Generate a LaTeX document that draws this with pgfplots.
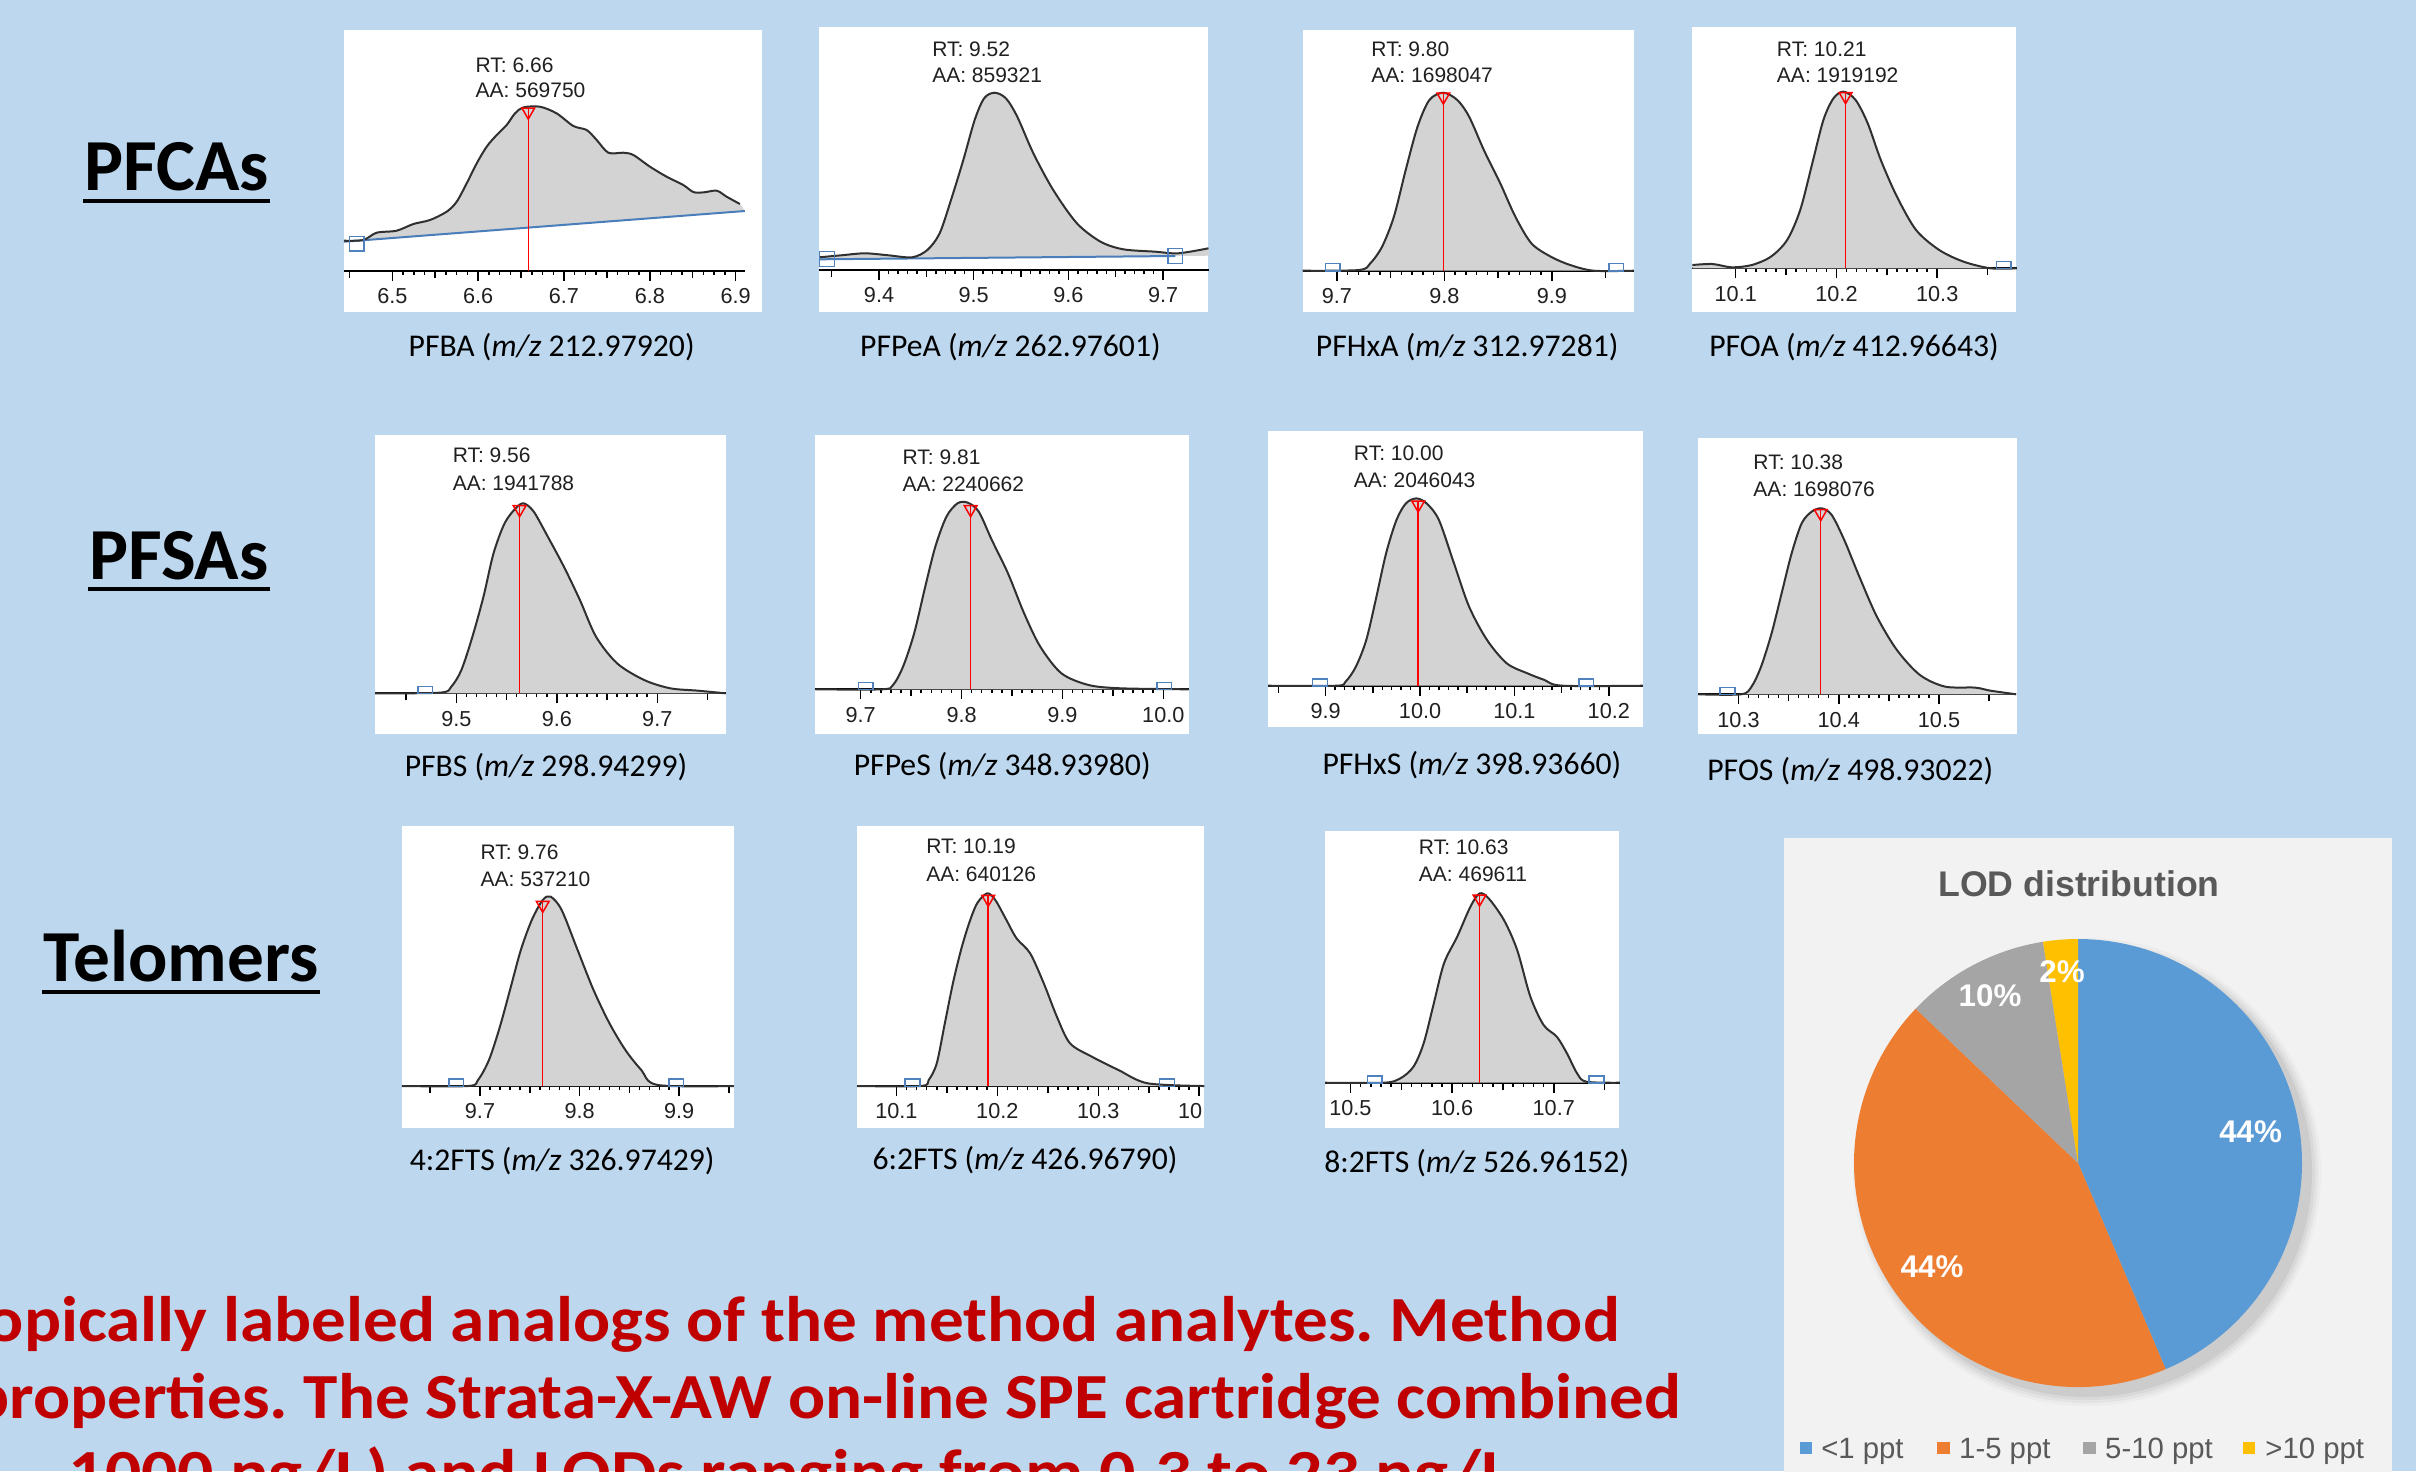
\documentclass[border=0pt]{standalone}
\usepackage{fontspec}
\setmainfont{Liberation Sans}
\newfontfamily\calibri{Carlito}
\newfontfamily\redfont[FakeStretch=1.075]{Carlito}
\newfontfamily\redfontb[FakeStretch=1.115]{Carlito}
\usepackage{pgfplots}
\pgfplotsset{compat=1.18}
\usepackage{pgfplotstable}
\frenchspacing

\definecolor{bg}{HTML}{BDD7EE}
\definecolor{pkfill}{HTML}{D3D3D3}
\definecolor{pkline}{HTML}{303030}
\definecolor{boxblue}{HTML}{4F81BD}
\definecolor{basel}{HTML}{4A7EBB}
\definecolor{redtxt}{HTML}{C00000}
\definecolor{pieblue}{HTML}{5B9BD5}
\definecolor{pieorange}{HTML}{ED7D31}
\definecolor{piegray}{HTML}{A5A5A5}
\definecolor{pieyellow}{HTML}{FFC000}
\definecolor{txtgray}{HTML}{595959}
\definecolor{piebg}{HTML}{F2F2F2}
\definecolor{lblc}{HTML}{202020}

\newcommand\tickfont{\fontsize{6.5}{7}\selectfont}
\newcommand\lblfont{\fontsize{6.3}{7}\selectfont}
\newcommand\capfont{\calibri\fontsize{9.5}{11}\selectfont}

\pgfplotsset{
  chrom/.style={
    axis x line*=bottom, axis y line=none,
    ymin=0, ymax=200, y=0.3pt,
    anchor=south west, clip=false,
    xtick align=outside,
    major tick length=3pt, minor tick length=1.2pt,
    tick style={black, line width=0.45pt},
    axis line style={black, line width=0.6pt},
    scaled x ticks=false,
    minor x tick num=9,
    xticklabel style={font=\tickfont, text=lblc, anchor=center, yshift=-4.6pt,
      /pgf/number format/fixed, /pgf/number format/fixed zerofill,
      /pgf/number format/precision=1, /pgf/number format/assume math mode=true},
    extra x tick labels={},
    extra x tick style={major tick length=2.1pt},
  },
  pk/.style={pkline, line width=0.6pt, smooth, tension=0.5},
  pkf/.style={fill=pkfill, draw=none, smooth, tension=0.5},
  rl/.style={red, line width=0.45pt},
  tri/.style={red, only marks, mark=triangle, mark size=2.2pt, mark options={rotate=180, line width=0.45pt, fill=none}},
  sq/.style={boxblue, only marks, mark=square, mark size=2.2pt, mark options={yscale=0.5, line width=0.45pt}},
  sqf/.style={boxblue, only marks, mark=square, mark size=2.2pt, mark options={line width=0.45pt}},
}

% PFBA
\pgfplotstableread{
x y
6.4437 30
6.4662 30.7
6.4817 38
6.5050 40
6.5245 46.7
6.5439 50.7
6.5633 59
6.5750 69
6.5866 87.3
6.5983 107.3
6.6099 124
6.6216 135.7
6.6332 145.7
6.6429 157.3
6.6526 163.3
6.6720 164
6.6915 157.3
6.7109 144.7
6.7264 140.7
6.7381 130.7
6.7517 118
6.7691 118
6.7808 115.7
6.8002 104
6.8196 94
6.8390 85.7
6.8507 78.7
6.8623 78.3
6.8779 80
6.8895 74
6.9050 66.7
}\cA
% PFPeA
\pgfplotstableread{
x y
9.337 12.7
9.360 14.7
9.385 16.7
9.410 14.7
9.435 12.7
9.451 20
9.464 36.7
9.476 70
9.489 110
9.501 150
9.511 171.7
9.522 177.3
9.534 171.7
9.546 153.3
9.563 116.7
9.584 80
9.609 46.7
9.634 28.3
9.658 20.7
9.692 18.3
9.716 16.7
9.748 21.7
}\cB
% PFHxA
\pgfplotstableread{
x y
9.668 0
9.7205 0.7
9.731 7.3
9.742 24
9.753 54
9.764 100.7
9.775 144
9.786 170.7
9.799 178
9.812 170.7
9.823 154
9.837 120
9.852 87.3
9.866 54
9.881 27.3
9.899 14
9.917 5.7
9.939 0
9.976 0
}\cC
% PFOA
\pgfplotstableread{
x y
10.057 3.3
10.077 4.3
10.096 1
10.116 3.3
10.135 11.7
10.151 28.3
10.164 58.3
10.176 105
10.187 148.3
10.197 170
10.207 176.7
10.219 168.3
10.231 145
10.244 108.3
10.260 71.7
10.279 38.3
10.302 18.3
10.326 6.7
10.353 0
10.379 0
}\cD
% PFBS
\pgfplotstableread{
x y
9.419 0
9.484 0.7
9.495 6.7
9.505 23.3
9.516 56.7
9.527 96.7
9.537 140
9.548 170
9.559 185
9.567 190
9.577 181.7
9.591 156.7
9.607 126.7
9.623 93.3
9.639 56.7
9.660 30
9.687 13.3
9.713 5
9.740 2.7
9.768 0
}\cE
% PFPeS
\pgfplotstableread{
x y
9.655 0
9.721 0
9.732 4.3
9.742 22.7
9.753 56
9.764 102.7
9.774 142.7
9.785 172.7
9.796 186
9.806 186.7
9.817 177.7
9.830 149.3
9.846 116
9.862 76
9.878 42.7
9.899 16
9.926 4.3
9.958 1
10.025 0
}\cF
% PFHxS
\pgfplotstableread{
x y
9.839 0
9.911 0
9.921 4
9.932 19
9.943 45.7
9.953 85.7
9.964 132.3
9.975 165.7
9.985 182.3
9.996 187.3
10.007 182.3
10.020 165.7
10.036 122.3
10.052 79
10.071 45.7
10.092 22.3
10.114 12.3
10.132 5.7
10.151 0
10.236 0
}\cG
% PFOS
\pgfplotstableread{
x y
10.260 0
10.3025 0
10.313 7.7
10.3225 27.7
10.333 61
10.343 101
10.353 141
10.363 171
10.373 182.7
10.383 186
10.393 179.3
10.4055 154.3
10.4205 117.7
10.438 77.7
10.458 44.3
10.481 19.3
10.506 7.7
10.536 6.7
10.551 3.7
10.577 0
}\cH
% 4:2FTS
\pgfplotstableread{
x y
9.6215 0
9.688 0
9.698 6
9.709 26
9.720 59.3
9.731 99.3
9.741 136
9.752 166
9.763 186
9.771 189.3
9.782 176
9.798 136
9.814 96
9.830 62.7
9.846 36
9.862 16
9.8785 1
9.955 0
}\cI
% 6:2FTS
\pgfplotstableread{
x y
10.061 0
10.124 0
10.132 6
10.140 22.7
10.148 62.7
10.156 102.7
10.164 136
10.172 162.7
10.180 182.7
10.190 192.7
10.198 186
10.209 166
10.219 147.7
10.2325 132.7
10.246 102.7
10.259 69.3
10.272 42.7
10.2937 29.3
10.320 16
10.349 2.7
10.405 0
}\cJ
% 8:2FTS
\pgfplotstableread{
x y
10.475 0
10.533 0
10.549 4.3
10.562 16
10.572 39.3
10.582 79.3
10.592 119.3
10.605 146
10.618 176
10.627 189.3
10.636 184.3
10.651 162.7
10.664 132.7
10.677 86
10.690 57.7
10.703 46
10.713 29.3
10.723 9.3
10.732 1
10.765 0
}\cK

% LOD distribution (percent)
\def\pA{43.6}\def\pB{43.5}\def\pC{10.4}\def\pD{2.5}

\begin{document}
\begin{tikzpicture}
\begin{scope}[x=0.3pt,y=-0.3pt]
\path[use as bounding box] (0,0) rectangle (2416,1471);
\fill[bg] (0,0) rectangle (2416,1471);

% group titles
\node[font=\calibri\bfseries\fontsize{22}{26}\selectfont, anchor=base, inner sep=0] at (176.5,190.7) {PFCAs};
\draw[line width=1.2pt] (83,200.5) -- (270,200.5);
\node[font=\calibri\bfseries\fontsize{22}{26}\selectfont, anchor=base, inner sep=0] at (179,579) {PFSAs};
\draw[line width=1.2pt] (88,589) -- (270,589);
\node[font=\calibri\bfseries\fontsize{22}{26}\selectfont, anchor=base, inner sep=0] at (181,981) {Telomers};
\draw[line width=1.2pt] (42,991.5) -- (320,991.5);

% white panel boxes
\fill[white] (344,30) rectangle (762,312);
\fill[white] (819.4,27.3) rectangle (1208.4,311.7);
\fill[white] (1302.5,30) rectangle (1633.5,311.7);
\fill[white] (1692.4,27.3) rectangle (2016.3,311.7);
\fill[white] (375,435) rectangle (725.8,734);
\fill[white] (815.3,435) rectangle (1189.1,734);
\fill[white] (1268.1,430.7) rectangle (1643,727.3);
\fill[white] (1698.4,438.3) rectangle (2016.7,734);
\fill[white] (401.8,826) rectangle (733.9,1128.3);
\fill[white] (857,826) rectangle (1204.1,1128.3);
\fill[white] (1325,830.7) rectangle (1619,1128.3);
\end{scope}

% ---- P1 PFBA
\begin{axis}[chrom, at={(344*0.3pt,-270.7*0.3pt)}, x=257.49pt, xmin=6.4437, xmax=6.9108,
  xtick={6.5,6.6,6.7,6.8,6.9}, minor x tick num=7, extra x ticks={6.45,6.55,6.65,6.75,6.85}]
\addplot[fill=pkfill, draw=none] table {\cA} -- (axis cs:6.9108,59.7) -- (axis cs:6.4437,29) -- cycle;
\addplot[basel, line width=0.6pt] coordinates {(6.4437,29) (6.9108,59.7)};
\addplot[pk] table {\cA};
\addplot[rl] coordinates {(6.6584,0) (6.6584,163)};
\addplot[tri] coordinates {(6.6584,159)};
\addplot[sqf] coordinates {(6.4584,27)};
\end{axis}

% ---- P2 PFPeA
\begin{axis}[chrom, at={(819.4*0.3pt,-270*0.3pt)}, x=284.01pt, xmin=9.337, xmax=9.748,
  xtick={9.4,9.5,9.6,9.7}, extra x ticks={9.35,9.45,9.55,9.65}]
\addplot[fill=pkfill, draw=none] table {\cB} -- (axis cs:9.748,14.3) -- (axis cs:9.337,10.7) -- cycle;
\addplot[basel, line width=0.6pt] coordinates {(9.337,10.7) (9.713,14)};
\addplot[pk] table {\cB};
\addplot[sqf] coordinates {(9.345,11) (9.713,14)};
\end{axis}

% ---- P3 PFHxA
\begin{axis}[chrom, at={(1302.5*0.3pt,-270.7*0.3pt)}, x=322.5pt, xmin=9.668, xmax=9.976,
  xtick={9.7,9.8,9.9}, extra x ticks={9.75,9.85,9.95}]
\addplot[pkf] table {\cC} \closedcycle;
\addplot[pk] table {\cC};
\addplot[rl] coordinates {(9.799,0) (9.799,178)};
\addplot[tri] coordinates {(9.799,174)};
\addplot[sq] coordinates {(9.696,3.3) (9.960,3.3)};
\end{axis}

% ---- P4 PFOA
\begin{axis}[chrom, at={(1692.4*0.3pt,-268.3*0.3pt)}, x=302.25pt, xmin=10.057, xmax=10.379,
  xtick={10.1,10.2,10.3}, extra x ticks={10.15,10.25,10.35}]
\addplot[pkf] table {\cD} \closedcycle;
\addplot[pk] table {\cD};
\addplot[rl] coordinates {(10.209,0) (10.209,176)};
\addplot[tri] coordinates {(10.209,172)};
\addplot[sq] coordinates {(10.366,3.3)};
\end{axis}

% ---- P5 PFBS
\begin{axis}[chrom, at={(375*0.3pt,-693.3*0.3pt)}, x=301.35pt, xmin=9.419, xmax=9.768,
  xtick={9.5,9.6,9.7}, extra x ticks={9.45,9.55,9.65,9.75}]
\addplot[pkf] table {\cE} \closedcycle;
\addplot[pk] table {\cE};
\addplot[rl] coordinates {(9.563,0) (9.563,188)};
\addplot[tri] coordinates {(9.563,184)};
\addplot[sq] coordinates {(9.469,3.3)};
\end{axis}

% ---- P6 PFPeS
\begin{axis}[chrom, at={(815.3*0.3pt,-689.3*0.3pt)}, x=302.61pt, xmin=9.655, xmax=10.025,
  xtick={9.7,9.8,9.9,10.0}, extra x ticks={9.75,9.85,9.95}]
\addplot[pkf] table {\cF} \closedcycle;
\addplot[pk] table {\cF};
\addplot[rl] coordinates {(9.809,0) (9.809,184)};
\addplot[tri] coordinates {(9.809,180)};
\addplot[sq] coordinates {(9.705,3.3) (10.001,3.3)};
\end{axis}

% ---- P7 PFHxS
\begin{axis}[chrom, at={(1268.1*0.3pt,-685.7*0.3pt)}, x=283.11pt, xmin=9.839, xmax=10.236,
  xtick={9.9,10.0,10.1,10.2}, extra x ticks={9.85,9.95,10.05,10.15}]
\addplot[pkf] table {\cG} \closedcycle;
\addplot[pk] table {\cG};
\addplot[rl] coordinates {(9.998,0) (9.998,185)};
\addplot[tri] coordinates {(9.998,181)};
\addplot[sq] coordinates {(9.894,3.3) (10.176,3.3)};
\end{axis}

% ---- P8 PFOS
\begin{axis}[chrom, at={(1698.4*0.3pt,-694.3*0.3pt)}, x=300.75pt, xmin=10.26, xmax=10.577,
  xtick={10.3,10.4,10.5}, extra x ticks={10.35,10.45,10.55}]
\addplot[pkf] table {\cH} \closedcycle;
\addplot[pk] table {\cH};
\addplot[rl] coordinates {(10.382,0) (10.382,185)};
\addplot[tri] coordinates {(10.382,181)};
\addplot[sq] coordinates {(10.289,3.3)};
\end{axis}

% ---- P9 4:2FTS
\begin{axis}[chrom, at={(401.8*0.3pt,-1086*0.3pt)}, x=298.8pt, xmin=9.6215, xmax=9.955,
  xtick={9.7,9.8,9.9}, extra x ticks={9.65,9.75,9.85,9.95}]
\addplot[pkf] table {\cI} \closedcycle;
\addplot[pk] table {\cI};
\addplot[rl] coordinates {(9.763,0) (9.763,185)};
\addplot[tri] coordinates {(9.763,181)};
\addplot[sq] coordinates {(9.676,3.3) (9.897,3.3)};
\end{axis}

% ---- P10 6:2FTS
\begin{axis}[chrom, at={(857*0.3pt,-1086*0.3pt)}, x=302.85pt, xmin=10.061, xmax=10.405,
  xtick={10.1,10.2,10.3,10.4}, extra x ticks={10.15,10.25,10.35}]
\addplot[pkf] table {\cJ} \closedcycle;
\addplot[pk] table {\cJ};
\addplot[rl] coordinates {(10.191,0) (10.191,191)};
\addplot[tri] coordinates {(10.191,187)};
\addplot[sq] coordinates {(10.116,3.3) (10.368,3.3)};
\end{axis}

% ---- P11 8:2FTS
\begin{axis}[chrom, at={(1325*0.3pt,-1082.7*0.3pt)}, x=305.01pt, xmin=10.475, xmax=10.765,
  xtick={10.5,10.6,10.7}, extra x ticks={10.55,10.65,10.75}]
\addplot[pkf] table {\cK} \closedcycle;
\addplot[pk] table {\cK};
\addplot[rl] coordinates {(10.627,0) (10.627,188)};
\addplot[tri] coordinates {(10.627,184)};
\addplot[sq] coordinates {(10.524,3.3) (10.742,3.3)};
\end{axis}

\begin{scope}[x=0.3pt,y=-0.3pt]
\fill[bg] (1204.1,1088) rectangle (1250,1127);
% panel labels
\begin{scope}[every node/.style={font=\lblfont, text=lblc, anchor=base west, inner sep=0}]
\node at (475,72.7) {RT: 6.66};      \node at (475,97.3) {AA: 569750};
\node at (931.6,56.7) {RT: 9.52};    \node at (931.6,82.7) {AA: 859321};
\node at (1370.8,56.7) {RT: 9.80};   \node at (1370.8,82.7) {AA: 1698047};
\node at (1776.3,56) {RT: 10.21};    \node at (1776.3,82) {AA: 1919192};
\node at (452.1,462.7) {RT: 9.56};   \node at (452.1,490.7) {AA: 1941788};
\node at (902,464.3) {RT: 9.81};     \node at (902,491) {AA: 2240662};
\node at (1353.3,460) {RT: 10.00};   \node at (1353.3,487.3) {AA: 2046043};
\node at (1752.8,469.3) {RT: 10.38}; \node at (1752.8,496) {AA: 1698076};
\node at (480,859.3) {RT: 9.76};     \node at (480,886) {AA: 537210};
\node at (925.6,853.3) {RT: 10.19};  \node at (925.6,881) {AA: 640126};
\node at (1418.3,854) {RT: 10.63};   \node at (1418.3,881.7) {AA: 469611};
\end{scope}
% captions
\begin{scope}[every node/.style={font=\capfont}]
\node at (551.6,347) {PFBA (\textit{m/z} 212.97920)};
\node at (1010.4,347) {PFPeA (\textit{m/z} 262.97601)};
\node at (1467.2,347) {PFHxA (\textit{m/z} 312.97281)};
\node at (1854,347) {PFOA (\textit{m/z} 412.96643)};
\node at (546,767) {PFBS (\textit{m/z} 298.94299)};
\node at (1002.2,766) {PFPeS (\textit{m/z} 348.93980)};
\node at (1471.9,765) {PFHxS (\textit{m/z} 398.93660)};
\node at (1850.3,771) {PFOS (\textit{m/z} 498.93022)};
\node at (562.2,1161) {4:2FTS (\textit{m/z} 326.97429)};
\node at (1025,1160) {6:2FTS (\textit{m/z} 426.96790)};
\node at (1476.7,1163) {8:2FTS (\textit{m/z} 526.96152)};
\end{scope}

% ---- red text
\begin{scope}
\clip (0,0) rectangle (2416,1471);
\begin{scope}[font=\redfont\bfseries\fontsize{19.3}{24}\selectfont, text=redtxt]
\node[anchor=base east, inner sep=0] at (1620,1341.7) {using isotopically labeled analogs of the method analytes. Method};
\node[anchor=base east, inner sep=0] at (1682,1418) {and physical properties. The Strata-X-AW on-line SPE cartridge combined};
\end{scope}
\begin{scope}[font=\redfontb\bfseries\fontsize{19.3}{24}\selectfont, text=redtxt]
\node[anchor=base east, inner sep=0] at (40,1494) {range (0.5 –};
\node[anchor=base west, inner sep=0] at (68,1494) {1000 ng/L) and LODs ranging from 0.3 to 23 ng/L.};
\end{scope}
% pie background and shadow
\fill[piebg] (1784,838) rectangle (2392,1480);
\foreach \r/\o in {234/0.025,231/0.035,228/0.045,225/0.06} \fill[black, opacity=\o] (2087,1172) circle (\r);
\end{scope}
\end{scope}

\pgfmathsetmacro\aA{90-\pA*3.6}
\pgfmathsetmacro\aB{\aA-\pB*3.6}
\pgfmathsetmacro\aC{\aB-\pC*3.6}
\pgfmathsetmacro\aD{\aC-\pD*3.6}
\begin{axis}[at={(2078*0.3pt,-1163*0.3pt)}, anchor=center, hide axis, x=67.2pt, y=67.2pt,
  xmin=-1, xmax=1, ymin=-1, ymax=1, clip=false]
\addplot[draw=none, forget plot] coordinates {(-1,-1) (1,1)};
\fill[pieblue] (axis cs:0,0) -- (axis cs:0,1) arc[start angle=90, end angle=\aA, radius=67.2pt] -- cycle;
\fill[pieorange] (axis cs:0,0) -- (axis cs:{cos(\aA)},{sin(\aA)}) arc[start angle=\aA, end angle=\aB, radius=67.2pt] -- cycle;
\fill[piegray] (axis cs:0,0) -- (axis cs:{cos(\aB)},{sin(\aB)}) arc[start angle=\aB, end angle=\aC, radius=67.2pt] -- cycle;
\fill[pieyellow] (axis cs:0,0) -- (axis cs:{cos(\aC)},{sin(\aC)}) arc[start angle=\aC, end angle=\aD, radius=67.2pt] -- cycle;
\end{axis}

\begin{scope}[x=0.3pt,y=-0.3pt]
\node[font=\bfseries\fontsize{10.7}{12}\selectfont, text=txtgray, anchor=base] at (2079,896) {LOD distribution};
\begin{scope}[font=\bfseries\fontsize{9.4}{10}\selectfont, text=white]
\node[anchor=base] at (2250.6,1142) {44\%};
\node[anchor=base] at (1932,1277.5) {44\%};
\node[anchor=base] at (1990,1006.5) {10\%};
\node[anchor=base] at (2062,982.5) {2\%};
\end{scope}
\begin{scope}[font=\fontsize{8.8}{10}\selectfont, text=txtgray]
\fill[pieblue] (1799.5,1442) rectangle (1811.6,1454);
\node[anchor=base west, inner sep=0] at (1820.6,1458) {<1 ppt};
\fill[pieorange] (1937,1442) rectangle (1949.6,1454);
\node[anchor=base west, inner sep=0] at (1958.5,1458) {1-5 ppt};
\fill[piegray] (2083,1442) rectangle (2095.6,1454);
\node[anchor=base west, inner sep=0] at (2104.5,1458) {5-10 ppt};
\fill[pieyellow] (2242.5,1442) rectangle (2254.6,1454);
\node[anchor=base west, inner sep=0] at (2264.8,1458) {>10 ppt};
\end{scope}
\end{scope}
\end{tikzpicture}
\end{document}
